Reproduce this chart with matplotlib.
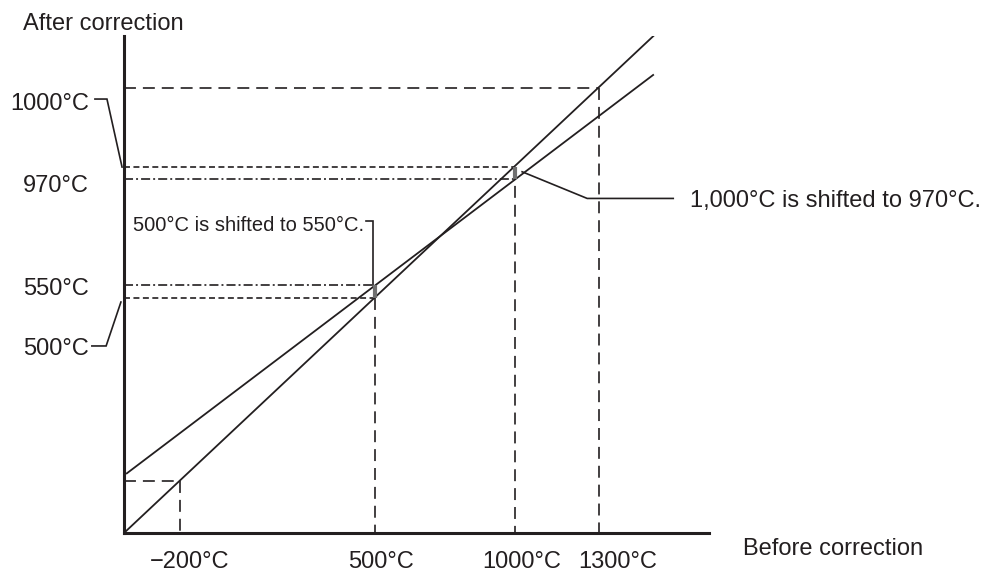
import numpy as np
import matplotlib.pyplot as plt

plt.rcParams['font.family'] = ['Liberation Sans', 'DejaVu Sans']
plt.rcParams['lines.scale_dashes'] = False

INK = '#231f20'
W, H = 988, 572

# temperatures before correction that get guide lines
ref_before = [-200, 500, 1000, 1300]
x_labels = ['\u2212200°C', '500°C', '1000°C', '1300°C']

# uncorrected line (after = before) and the corrected line
ident_x = [-400, 1495]
ident_y = [-400, 1500]
corr_x = [-390, 1494]
corr_y = [-172, 1351]

# the two points that are shifted
shift_before = [500, 1000]
y_labels = ['1000°C', '970°C', '550°C', '500°C']

LONG = (0, (8.6, 5.0))
SHORT = (0, (4.3, 2.5))
DASHDOT = (0, (6.5, 2.2, 1.4, 2.2))

fig = plt.figure(figsize=(W / 100, H / 100), dpi=100, facecolor='white')
ax = fig.add_axes([124 / W, 39 / H, 585 / W, 497 / H])
ax.set_xlim(-400, 1694)
ax.set_ylim(-400, 1500)
for s in ['top', 'right']:
    ax.spines[s].set_visible(False)
for s in ['left', 'bottom']:
    ax.spines[s].set_linewidth(2.2)
    ax.spines[s].set_color(INK)
ax.set_xticks([])
ax.set_yticks([])

x0, y0 = -400, -400
shift_after = np.interp(shift_before, corr_x, corr_y)

# long dashed guides at -200 and 1300 (on the uncorrected line)
for t in [ref_before[0], ref_before[3]]:
    ax.plot([x0, t], [t, t], color=INK, lw=1.2, linestyle=LONG)
    ax.plot([t, t], [t, y0], color=INK, lw=1.2, linestyle=LONG)

# guides at 500 and 1000
for b, a in zip(shift_before, shift_after):
    ax.plot([b, b], [b, y0], color=INK, lw=1.2, linestyle=LONG)
    ax.plot([x0, b], [b, b], color=INK, lw=1.2, linestyle=SHORT)
    ax.plot([x0, b], [a, a], color=INK, lw=1.2, linestyle=DASHDOT)

ax.plot(ident_x, ident_y, color=INK, lw=1.3)
ax.plot(corr_x, corr_y, color=INK, lw=1.3)

# gray shift markers
ax.vlines(shift_before, shift_before, shift_after, color='#707070', lw=3.0,
          zorder=4)

# leader lines
kw = dict(color=INK, lw=1.2, clip_on=False, solid_joinstyle='miter')
ax.plot([-504, -461, -407], [1259, 1259, 999], **kw)
ax.plot([-515, -464, -411], [315, 315, 483], **kw)
ax.plot([466, 491, 491], [792, 792, 548], **kw)
ax.plot([1025, 1258, 1566], [981, 879, 879], **kw)


def ftext(x, y, s, size=17, ha='left'):
    fig.text(x / W, 1 - y / H, s, fontsize=size, color=INK, ha=ha,
             va='baseline')


ftext(23, 30, 'After correction')
ftext(743, 555, 'Before correction')

for cx, lab in zip([189.5, 381, 522, 618], x_labels):
    ftext(cx, 568.3, lab, ha='center')

for by, lab in zip([110, 191.5, 295, 355], y_labels):
    ftext(89, by, lab, ha='right')

ftext(690, 207, '1,000°C is shifted to 970°C.')
ftext(364, 231, '500°C is shifted to 550°C.', size=14.5, ha='right')

fig.savefig('out.png', dpi=100, facecolor='white')
